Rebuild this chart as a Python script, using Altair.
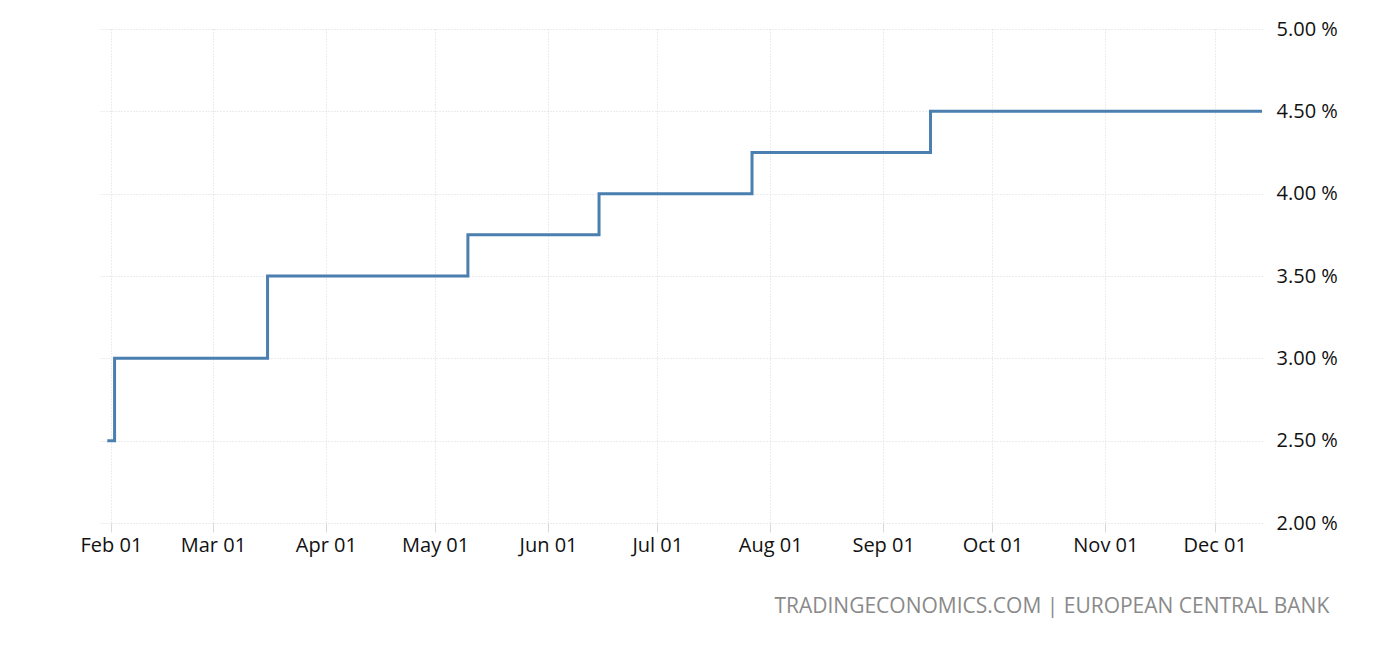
import altair as alt
import pandas as pd

dates = ["2023-01-31", "2023-02-02", "2023-03-16", "2023-05-10",
         "2023-06-15", "2023-07-27", "2023-09-14", "2023-12-14"]
rates = [2.50, 3.00, 3.50, 3.75, 4.00, 4.25, 4.50, 4.50]
y_ticks = [2.0, 2.5, 3.0, 3.5, 4.0, 4.5, 5.0]
x_domain = ["2023-01-29", "2023-12-14"]
source_text = "TRADINGECONOMICS.COM | EUROPEAN CENTRAL BANK"

df = pd.DataFrame({"date": dates, "rate": rates})

font = "Open Sans"

chart = alt.Chart(df).mark_line(
    interpolate="step-after", color="#4a7fb0", strokeWidth=3
).encode(
    x=alt.X("date:T", title=None,
            scale=alt.Scale(type="utc", domain=x_domain),
            axis=alt.Axis(format="%b %d", tickCount={"interval": "month", "step": 1},
                          grid=True, gridColor="#d9d9d9", gridDash=[1, 2], gridWidth=1,
                          domain=False, ticks=True, tickColor="#d9d9d9", tickSize=9,
                          labelFont=font, labelFontSize=20, labelColor="#111",
                          labelPadding=3, labelFlush=False, labelOverlap=False)),
    y=alt.Y("rate:Q", title=None,
            scale=alt.Scale(domain=[2, 5], nice=False, zero=False),
            axis=alt.Axis(orient="right", values=y_ticks,
                          labelExpr="format(datum.value, '.2f') + ' %'",
                          grid=True, gridColor="#d9d9d9", gridDash=[1, 2], gridWidth=1,
                          domain=False, ticks=False, labelPadding=14,
                          labelFont=font, labelFontSize=20, labelColor="#111",
                          labelBaseline="middle")),
).properties(
    width=1162, height=494,
    padding={"left": 92, "top": 21, "right": 125, "bottom": 116},
    autosize=alt.AutoSizeParams(type="none"),
    background="white",
    title=alt.TitleParams(source_text, orient="bottom", anchor="end",
                          font=font, fontSize=21, fontWeight="normal",
                          color="#8a8a8a", offset=41, dx=-8),
).configure_view(stroke=None)

chart.save("out.html", embed_options={"renderer": "svg", "actions": False})
